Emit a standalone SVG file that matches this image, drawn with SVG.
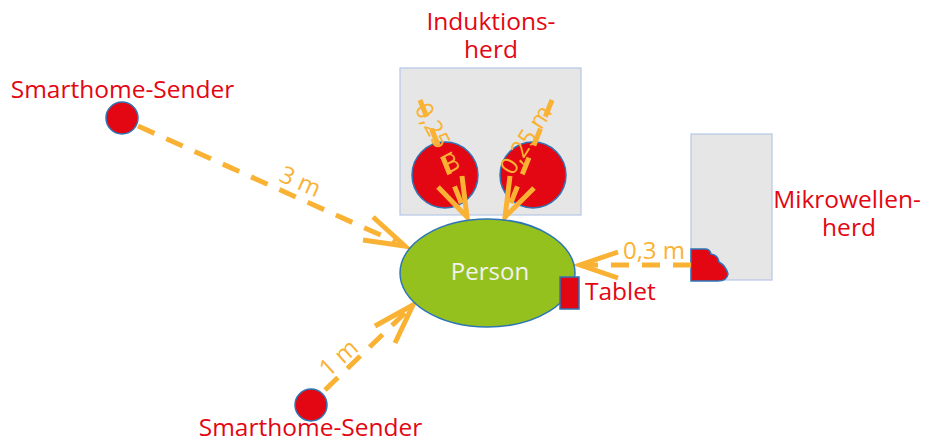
<svg xmlns="http://www.w3.org/2000/svg" width="927" height="443" viewBox="0 0 927 443">
  <style>
    .lbl { font-family: "Open Sans", "Noto Sans", "DejaVu Sans", sans-serif; font-size: 24.5px; fill: #E30613; }
    .dist { font-family: "Open Sans", "Noto Sans", "DejaVu Sans", sans-serif; font-size: 24px; fill: #F9B233; }
    .box { fill: #E7E6E6; stroke: #B4C7E7; stroke-width: 1.2; }
    .red { fill: #E30613; stroke: #2E75B6; stroke-width: 1.5; }
    .link { fill: none; stroke: #F9B233; stroke-width: 5; stroke-dasharray: 18 13; }
    .head { fill: none; stroke: #F9B233; stroke-width: 5; stroke-linecap: butt; }
  </style>

  <rect width="927" height="443" fill="#ffffff"/>

  <!-- induction hob with two hotplates -->
  <g id="induktionsherd">
    <rect class="box" x="400" y="68" width="181" height="147"/>
    <circle class="red" cx="445" cy="175" r="33"/>
    <circle class="red" cx="533" cy="175" r="33"/>
    <text class="lbl" x="491" y="30" text-anchor="middle">Induktions-</text>
    <text class="lbl" x="491" y="58" text-anchor="middle">herd</text>
  </g>

  <!-- microwave -->
  <g id="mikrowellenherd">
    <rect class="box" x="691" y="134" width="81" height="146"/>
    <path class="red" d="M691,249 L705,249 Q710,249 711,254 Q718,255 719,262 Q726,266 728,274 Q727,281 718,281 L691,281 Z"/>
    <text class="lbl" x="847" y="208" text-anchor="middle">Mikrowellen-</text>
    <text class="lbl" x="849" y="236" text-anchor="middle">herd</text>
  </g>

  <!-- smart home transmitters -->
  <g id="sender-oben">
    <circle class="red" cx="122" cy="118" r="16"/>
    <text class="lbl" x="122.5" y="98" text-anchor="middle">Smarthome-Sender</text>
  </g>
  <g id="sender-unten">
    <circle class="red" cx="311" cy="405" r="16"/>
    <text class="lbl" x="310.5" y="436" text-anchor="middle">Smarthome-Sender</text>
  </g>

  <!-- distance connectors -->
  <g id="connectors">
    <path class="link" d="M138,126 L396,242"/>
    <path class="head" d="M373,217 L405,246 L363,240"/>
    <text class="dist" transform="translate(297,189) rotate(24)" text-anchor="middle">3 m</text>

    <path class="link" d="M325,390 L408,310"/>
    <path class="head" d="M375,326 L413,305 L395,343"/>
    <text class="dist" transform="translate(344,364) rotate(-42)" text-anchor="middle">1 m</text>

    <path class="link" d="M420,100 L464,210"/>
    <path class="head" d="M438,187 L467,217 L462,176"/>
    <text class="dist" transform="translate(432,142) rotate(62)" text-anchor="middle">0,25 m</text>

    <path class="link" d="M552,100 L508,210"/>
    <path class="head" d="M534,188 L505,217 L510,176"/>
    <text class="dist" transform="translate(533,144) rotate(-58)" text-anchor="middle">0,25 m</text>

    <path class="link" d="M691,265 L584,265"/>
    <path class="head" d="M618,252 L580,265 L618,278"/>
    <text class="dist" x="654" y="259" text-anchor="middle">0,3 m</text>
  </g>

  <!-- person with tablet -->
  <g id="person">
    <ellipse cx="487.5" cy="273" rx="87.5" ry="54" fill="#95C11F" stroke="#2E75B6" stroke-width="1.5"/>
    <text x="490" y="280" text-anchor="middle" font-family="'Open Sans', 'Noto Sans', sans-serif" font-size="24" fill="#F2F2F2">Person</text>
  </g>
  <g id="tablet">
    <rect class="red" x="560" y="277" width="19" height="32"/>
    <text class="lbl" x="585" y="300">Tablet</text>
  </g>
</svg>
